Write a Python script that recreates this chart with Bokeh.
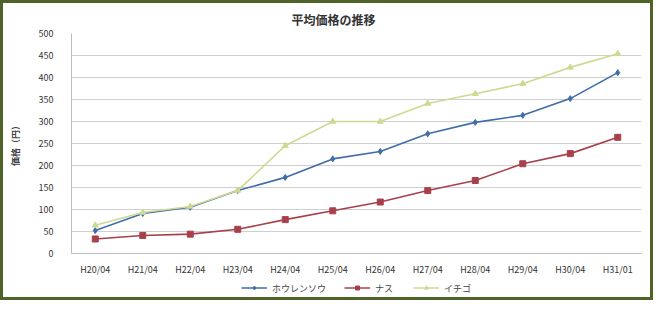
from bokeh.plotting import figure
from bokeh.layouts import column
from bokeh.models import FactorRange, Range1d, FixedTicker, Legend, LegendItem, Title
from bokeh.embed import file_html
from bokeh.resources import INLINE

categories = ["H20/04", "H21/04", "H22/04", "H23/04", "H24/04", "H25/04",
              "H26/04", "H27/04", "H28/04", "H29/04", "H30/04", "H31/01"]
series_names = ["ホウレンソウ", "ナス", "イチゴ"]
blue_vals = [52, 91, 105, 143, 173, 215, 232, 272, 298, 314, 352, 411]
red_vals = [33, 41, 44, 55, 77, 97, 117, 143, 166, 204, 227, 264]
green_vals = [64, 93, 107, 143, 245, 300, 300, 341, 363, 386, 423, 454]
y_ticks = [0, 50, 100, 150, 200, 250, 300, 350, 400, 450, 500]

FONT = "Noto Sans CJK JP"

p = figure(x_range=FactorRange(*categories), y_range=Range1d(0, 500),
           width=647, height=275, output_backend="svg", toolbar_location=None,
           min_border_left=68, min_border_right=9, min_border_top=22, min_border_bottom=20)

p.title = Title(text="平均価格の推移", align="left", offset=220, standoff=11,
                text_font=FONT, text_font_size="12px", text_font_style="bold",
                text_color="#333333")

p.outline_line_color = None
p.xgrid.grid_line_color = None
p.ygrid.grid_line_color = "#cfcfcf"
p.ygrid.grid_line_width = 1

p.yaxis.ticker = FixedTicker(ticks=y_ticks)
p.yaxis.axis_label = "価格（円）"
p.yaxis.axis_label_text_font = FONT
p.yaxis.axis_label_text_font_size = "9px"
p.yaxis.axis_label_text_font_style = "bold"
p.yaxis.axis_label_standoff = 14
for ax in (p.xaxis, p.yaxis):
    ax.major_label_text_font = FONT
    ax.major_label_text_font_size = "9px"
    ax.major_label_text_color = "#333333"
    ax.axis_line_color = "#bdbdbd"
    ax.major_tick_line_color = None
    ax.minor_tick_line_color = None
p.xaxis.major_label_standoff = 3
p.yaxis.major_label_standoff = 12

colors = ["#3F6DAA", "#A8404C", "#CCDA92"]
markers = ["diamond", "square", "triangle"]
all_vals = [blue_vals, red_vals, green_vals]
for vals, col, mk in zip(all_vals, colors, markers):
    p.line(categories, vals, line_color=col, line_width=1.6)
    p.scatter(categories, vals, marker=mk, size=6, fill_color=col, line_color=col)

# legend strip below the chart (its glyphs sit outside its own visible range)
lg = figure(x_range=FactorRange(*categories), y_range=Range1d(-1000, -999),
            width=647, height=19, output_backend="svg", toolbar_location=None,
            x_axis_location=None, y_axis_location=None,
            min_border_left=0, min_border_right=0, min_border_top=0, min_border_bottom=0)
lg.outline_line_color = None
lg.grid.grid_line_color = None
items = []
for name, vals, col, mk in zip(series_names, all_vals, colors, markers):
    l = lg.line(categories, vals, line_color=col, line_width=1.6)
    s = lg.scatter(categories, vals, marker=mk, size=6, fill_color=col, line_color=col)
    items.append(LegendItem(label=name, renderers=[l, s]))
legend = Legend(items=items, orientation="horizontal", location="center",
                label_text_font=FONT, label_text_font_size="9px",
                border_line_color=None, background_fill_alpha=0,
                glyph_width=26, glyph_height=10, spacing=18, padding=0, margin=0)
lg.add_layout(legend)

lay = column(p, lg, spacing=0, styles={"border": "3px solid #4F6228"})
open("out.html", "w").write(file_html(lay, INLINE))
